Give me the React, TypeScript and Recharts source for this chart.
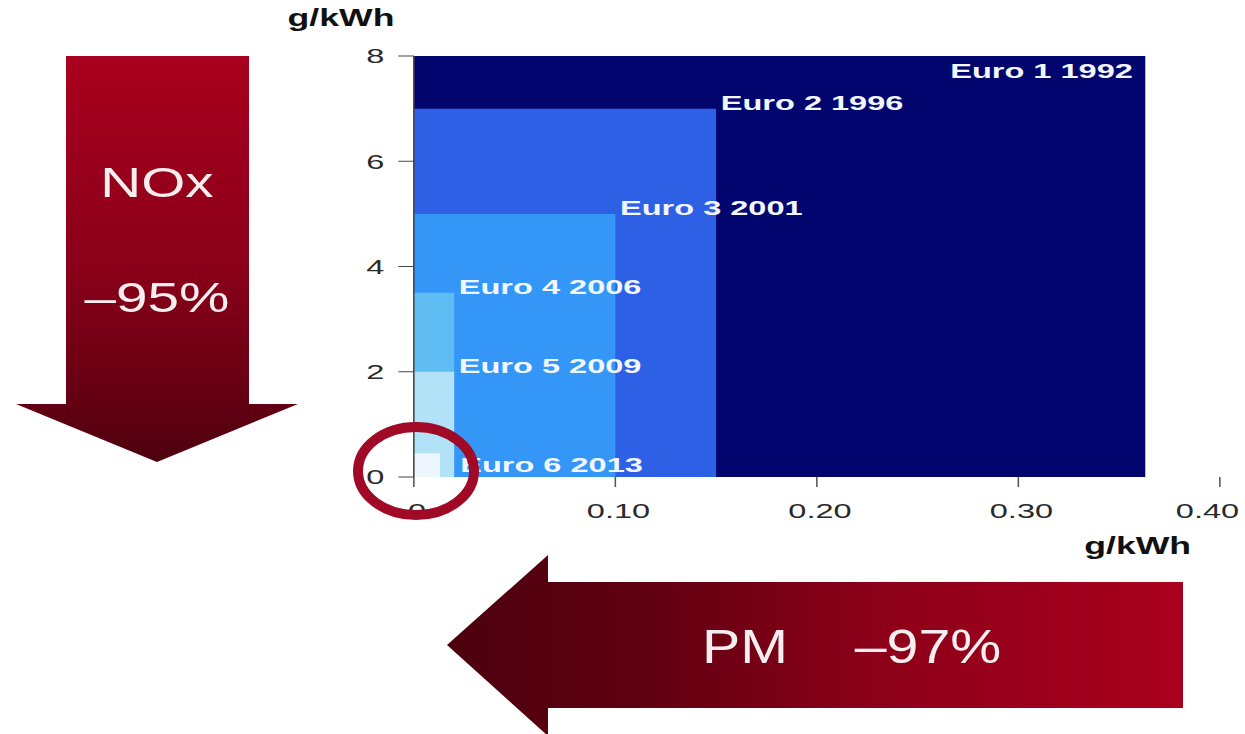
import React from 'react';
import { ComposedChart, XAxis, YAxis, ReferenceArea } from 'recharts';

// Euro emission standards (heavy-duty diesel) — PM vs NOx limits
const stageLabels = ['Euro 1 1992', 'Euro 2 1996', 'Euro 3 2001', 'Euro 4 2006', 'Euro 5 2009', 'Euro 6 2013'];
const pmLimits = [0.363, 0.15, 0.1, 0.02, 0.02, 0.013];
const noxLimits = [8, 7, 5, 3.5, 2.0, 0.45];
const stageColors = ['#03056f', '#2e60e6', '#3496f6', '#5fbdf4', '#b2e2f8', '#eef7fd'];

const xTicks = [0, 0.1, 0.2, 0.3, 0.4];
const yTicks = [0, 2, 4, 6, 8];
const unitLabel = 'g/kWh';
const noxArrowTexts = ['NOx', '–95%'];
const pmArrowTexts = ['PM', '–97%'];

const data = pmLimits.map((pm, i) => ({ pm, nox: noxLimits[i], name: stageLabels[i] }));

const FONT = '"Liberation Sans", Arial, Helvetica, sans-serif';
const STRETCH = 1.55;

const fmtX = (v: number) => (v === 0 ? '0' : v.toFixed(2));

const XTick = (props: any) => {
  const { x, y, payload, index, visibleTicksCount } = props;
  const last = index === (visibleTicksCount ?? xTicks.length) - 1 || payload.value === 0.4;
  const shift = last ? -8 : 2;
  return (
    <text
      x={x + shift}
      y={y}
      dy="0.71em"
      textAnchor="middle"
      fill="#2a2a2a"
      fontSize={21}
      fontFamily={FONT}
    >
      {fmtX(payload.value)}
    </text>
  );
};

const AreaLabel = (props: any) => {
  const { viewBox, idx } = props;
  if (!viewBox) return null;
  const { x, y, width, height } = viewBox;
  let tx = x + width + 3;
  let ty = y + 1;
  let anchor: 'start' | 'end' = 'start';
  if (idx === 0) {
    tx = x + width - 8;
    ty = y + 22;
    anchor = 'end';
  } else if (idx === 5) {
    tx = x + width + 13;
    ty = y + height - 5;
  }
  return (
    <text
      x={tx}
      y={ty}
      textAnchor={anchor}
      fill="#f2f6ff"
      fontFamily={FONT}
      fontWeight="bold"
      fontSize={21}
    >
      {stageLabels[idx]}
    </text>
  );
};

const YTitle = (props: any) => {
  const { viewBox } = props;
  if (!viewBox) return null;
  return (
    <text
      x={viewBox.x + 23}
      y={viewBox.y - 30}
      textAnchor="middle"
      fill="#111"
      fontFamily={FONT}
      fontWeight="bold"
      fontSize={23}
    >
      {unitLabel}
    </text>
  );
};

const XTitle = (props: any) => {
  const { viewBox } = props;
  if (!viewBox) return null;
  return (
    <text
      x={viewBox.x + viewBox.width - 53}
      y={viewBox.y + 77}
      textAnchor="middle"
      fill="#111"
      fontFamily={FONT}
      fontWeight="bold"
      fontSize={23}
    >
      {unitLabel}
    </text>
  );
};

export default function App() {
  return (
    <div
      style={{
        position: 'absolute',
        left: 0,
        top: 0,
        width: 1245,
        height: 734,
        overflow: 'hidden',
        background: '#ffffff',
      }}
    >
      <div
        style={{
          position: 'absolute',
          left: 0,
          top: 0,
          width: 803,
          height: 734,
          transform: `scaleX(${STRETCH})`,
          transformOrigin: '0 0',
        }}
      >
        <ComposedChart
          width={803}
          height={734}
          data={data}
          margin={{ top: 56, right: 16, bottom: 217, left: 197 }}
        >
          <XAxis
            type="number"
            dataKey="pm"
            domain={[0, 0.4]}
            ticks={xTicks}
            allowDataOverflow
            axisLine={false}
            tickLine={{ stroke: '#555' }}
            tickSize={10}
            tickMargin={16}
            height={40}
            interval={0}
            tick={<XTick />}
            label={<XTitle />}
          />
          <YAxis
            type="number"
            dataKey="nox"
            domain={[0, 8]}
            ticks={yTicks}
            allowDataOverflow
            width={70}
            axisLine={{ stroke: '#444' }}
            tickLine={{ stroke: '#444' }}
            tickSize={10}
            tickMargin={9}
            tick={{ fill: '#2a2a2a', fontSize: 21, fontFamily: FONT }}
            label={<YTitle />}
          />
          {pmLimits.map((pm, i) => (
            <ReferenceArea
              key={stageLabels[i]}
              x1={0}
              x2={pm}
              y1={0}
              y2={noxLimits[i]}
              fill={stageColors[i]}
              fillOpacity={1}
              stroke="none"
              ifOverflow="visible"
              label={<AreaLabel idx={i} />}
            />
          ))}
        </ComposedChart>
      </div>
      <svg
        width={1245}
        height={734}
        style={{ position: 'absolute', left: 0, top: 0, pointerEvents: 'none' }}
      >
        <defs>
          <linearGradient id="noxGrad" x1="0" y1="0" x2="0" y2="1">
            <stop offset="0" stopColor="#a9001f" />
            <stop offset="0.5" stopColor="#8c0019" />
            <stop offset="0.8" stopColor="#6a0014" />
            <stop offset="1" stopColor="#4e000f" />
          </linearGradient>
          <linearGradient id="pmGrad" x1="0" y1="0" x2="1" y2="0">
            <stop offset="0" stopColor="#4c000e" />
            <stop offset="0.25" stopColor="#5e0011" />
            <stop offset="0.6" stopColor="#8e0019" />
            <stop offset="1" stopColor="#aa001f" />
          </linearGradient>
        </defs>
        <polygon
          points="66,56 249,56 249,404 298,404 157,462 16,404 66,404"
          fill="url(#noxGrad)"
        />
        <polygon
          points="1183,582 1183,708 548,708 548,736 447,645 548,555 548,582"
          fill="url(#pmGrad)"
        />
        <text
          transform="translate(157,183) scale(1.35,1)"
          textAnchor="middle"
          dominantBaseline="central"
          fill="#f7eef0"
          fontFamily={FONT}
          fontSize={42}
        >
          {noxArrowTexts[0]}
        </text>
        <text
          transform="translate(157,298) scale(1.35,1)"
          textAnchor="middle"
          dominantBaseline="central"
          fill="#f7eef0"
          fontFamily={FONT}
          fontSize={42}
        >
          {noxArrowTexts[1]}
        </text>
        <text
          transform="translate(745,646) scale(1.17,1)"
          textAnchor="middle"
          dominantBaseline="central"
          fill="#f7eef0"
          fontFamily={FONT}
          fontSize={49}
        >
          {pmArrowTexts[0]}
        </text>
        <text
          transform="translate(928,646) scale(1.17,1)"
          textAnchor="middle"
          dominantBaseline="central"
          fill="#f7eef0"
          fontFamily={FONT}
          fontSize={49}
        >
          {pmArrowTexts[1]}
        </text>
        <ellipse cx={416} cy={471} rx={58} ry={44} fill="none" stroke="#a00a27" strokeWidth={10} />
      </svg>
    </div>
  );
}
